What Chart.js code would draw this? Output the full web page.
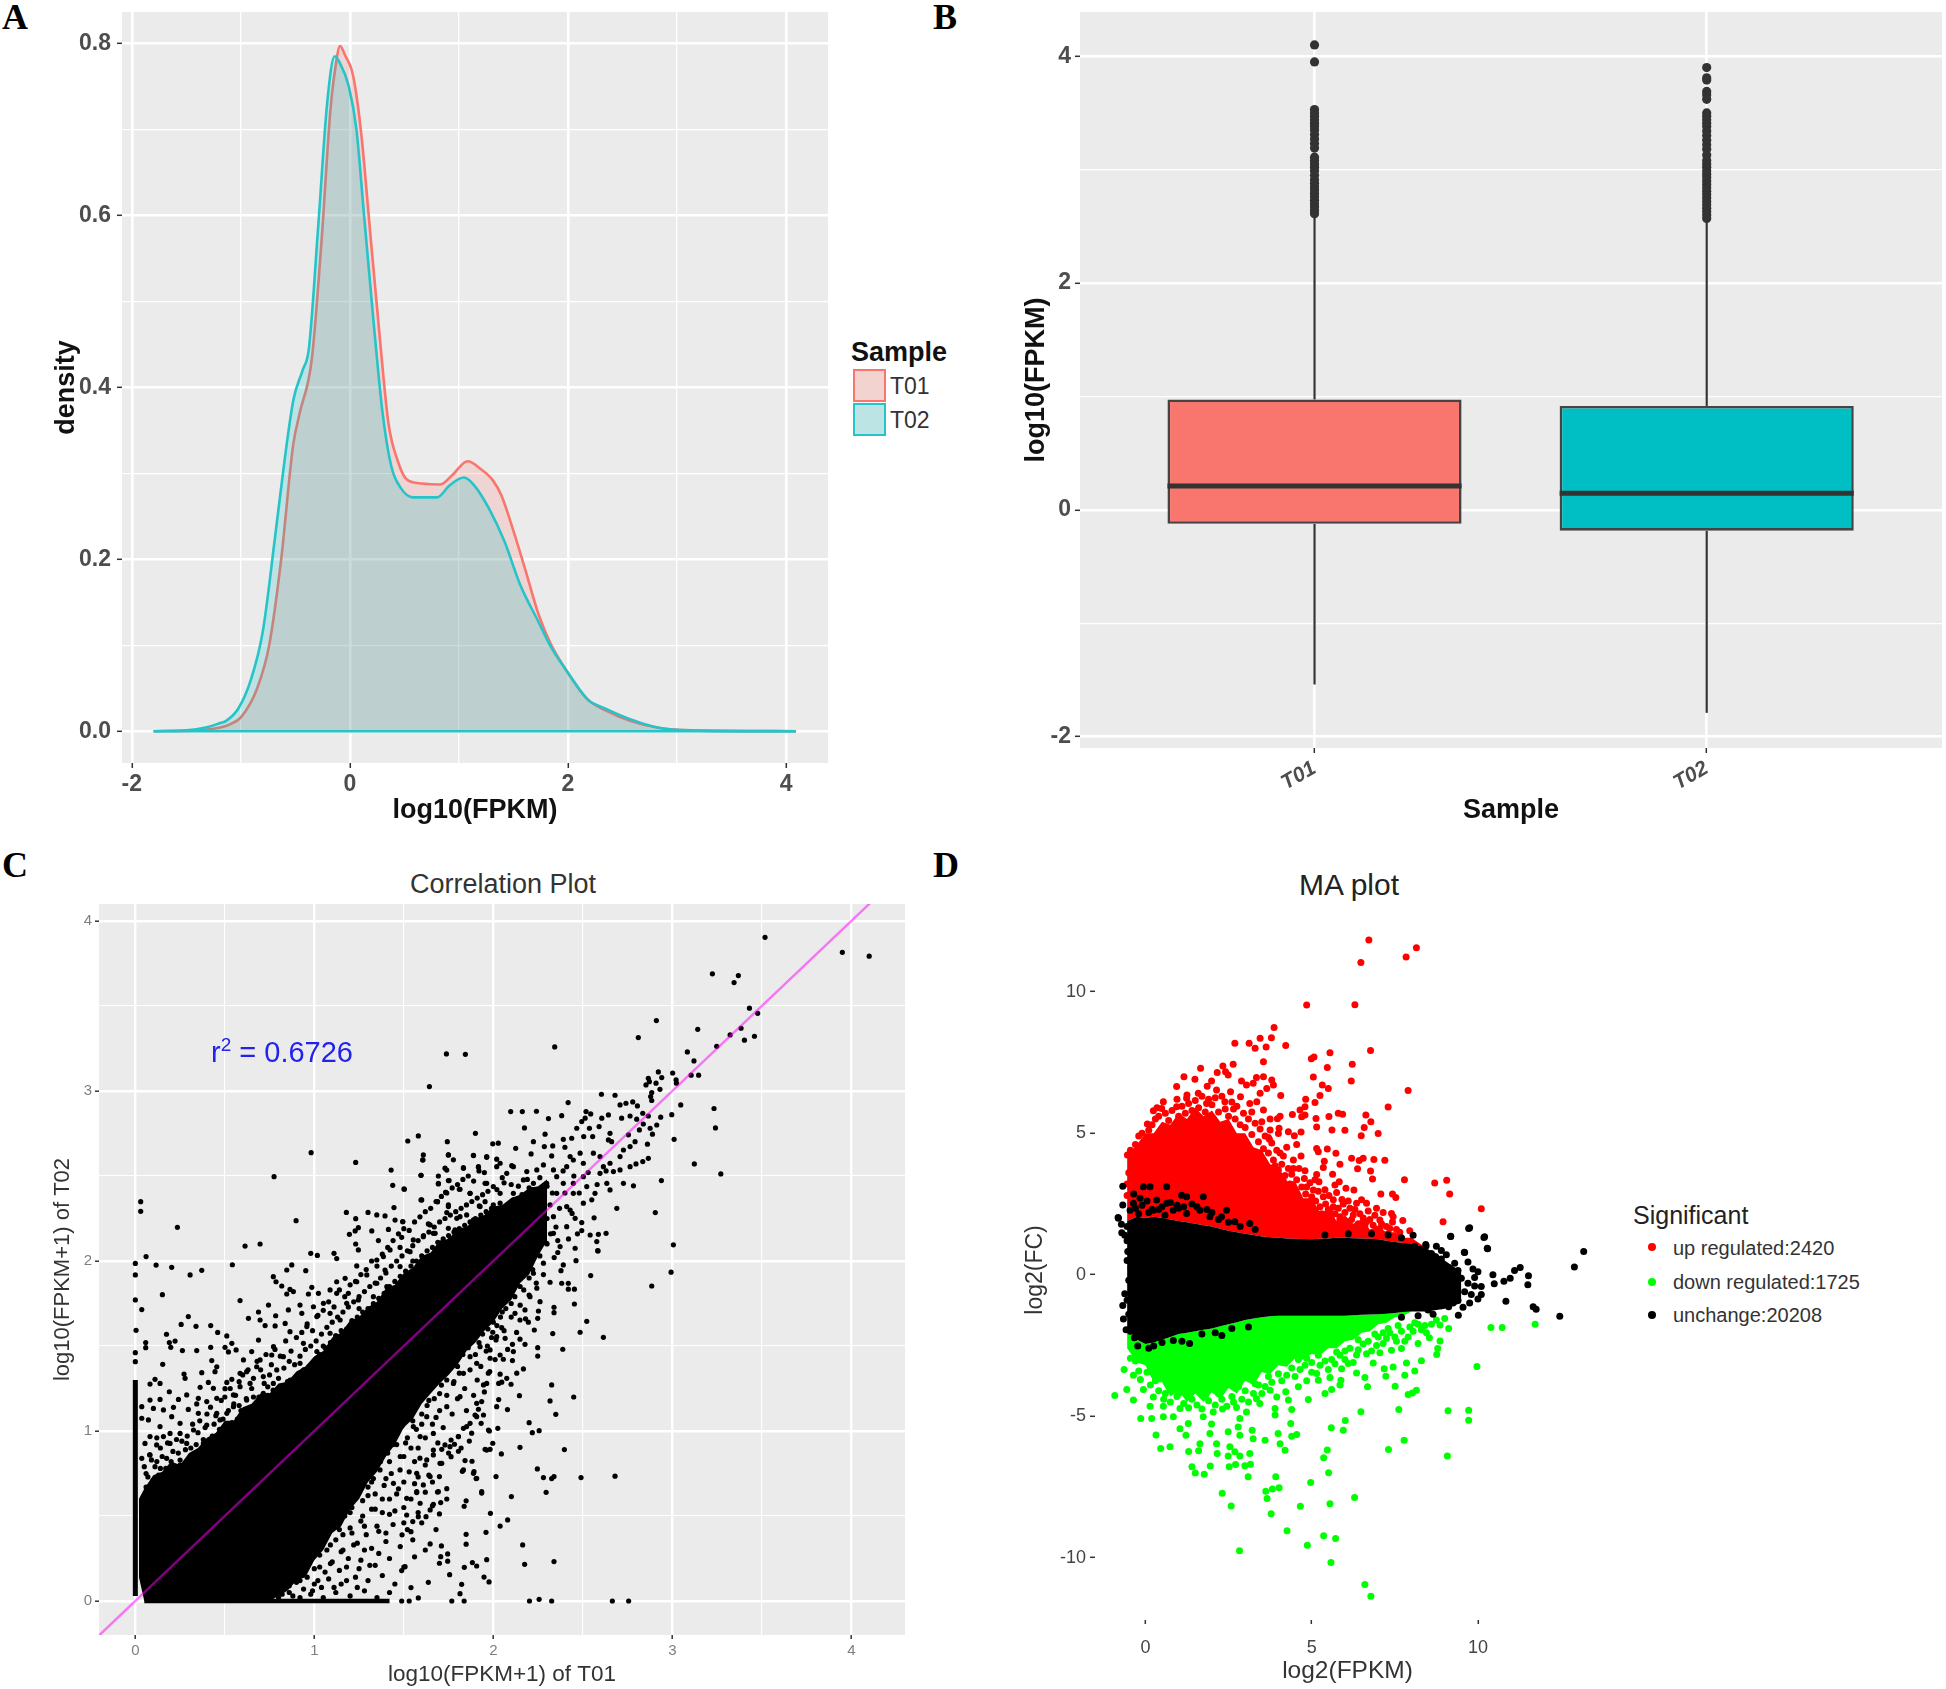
<!DOCTYPE html>
<html><head><meta charset="utf-8">
<script src="https://cdn.jsdelivr.net/npm/chart.js@4/dist/chart.umd.min.js"></script>
<style>
html,body{margin:0;background:#fff}
#page{position:relative;width:1946px;height:1689px;overflow:hidden;font-family:"Liberation Sans",sans-serif}
canvas{position:absolute;filter:blur(.55px)}
.t{position:absolute;transform:translate(-50%,-50%);white-space:nowrap;color:#222}
.l{position:absolute;transform:translateY(-50%);white-space:nowrap;color:#333}
.letter{position:absolute;font:bold 36px "Liberation Serif",serif;color:#000;transform:translateY(-50%)}
.sw{position:absolute;box-sizing:border-box;border-width:2.5px;border-style:solid}
.dot{position:absolute;width:8px;height:8px;border-radius:50%;transform:translate(-50%,-50%)}
sup{font-size:19px;line-height:0;vertical-align:11px}
</style></head><body><div id="page">
<canvas id="a"></canvas><canvas id="b"></canvas><canvas id="c"></canvas><canvas id="d"></canvas>
<div class="letter" style="left:2px;top:17px">A</div>
<div class="letter" style="left:933px;top:17px">B</div>
<div class="letter" style="left:2px;top:865px">C</div>
<div class="letter" style="left:933px;top:865px">D</div>
<div class="l" style="left:851px;top:352px;font:bold 27px 'Liberation Sans';color:#111">Sample</div>
<div class="sw" style="left:853px;top:369px;width:33px;height:33px;border-color:#F8766D;background:#F2D3D0"></div>
<div class="sw" style="left:853px;top:403px;width:33px;height:33px;border-color:#26C4C8;background:#BCE4E4"></div>
<div class="l" style="left:890px;top:386px;font-size:23px">T01</div>
<div class="l" style="left:890px;top:420px;font-size:23px">T02</div>
<div class="t" style="left:503px;top:884px;font-size:27px;color:#333">Correlation Plot</div>
<div class="t" style="left:282px;top:1052px;font-size:29px;color:#2222EE">r<sup>2</sup> = 0.6726</div>
<div class="t" style="left:1349px;top:885px;font-size:30px;color:#222">MA plot</div>
<div class="l" style="left:1633px;top:1215px;font-size:25px;color:#222">Significant</div>
<div class="dot" style="left:1652px;top:1247px;background:#f00"></div>
<div class="dot" style="left:1652px;top:1282px;background:#0f0"></div>
<div class="dot" style="left:1652px;top:1315px;background:#000"></div>
<div class="l" style="left:1673px;top:1248px;font-size:20px">up regulated:2420</div>
<div class="l" style="left:1673px;top:1282px;font-size:20px">down regulated:1725</div>
<div class="l" style="left:1673px;top:1315px;font-size:20px">unchange:20208</div>
</div>
<script>
// ---------- Panel A: density ----------
const densityT01=[[-1.8,0],[-1.4,.001],[-1.2,.004],[-1.1,.008],[-1,.016],[-.85,.05],[-.74,.1],[-.63,.2],[-.52,.333],[-.46,.37],[-.35,.432],[-.26,.57],[-.18,.72],[-.135,.77],[-.09,.797],[-.04,.785],[.017,.769],[.06,.74],[.11,.688],[.185,.582],[.27,.464],[.354,.358],[.44,.314],[.52,.293],[.66,.288],[.83,.287],[.94,.298],[1.08,.314],[1.2,.305],[1.31,.292],[1.39,.274],[1.5,.233],[1.62,.183],[1.73,.136],[1.84,.102],[2,.068],[2.18,.037],[2.35,.024],[2.57,.012],[2.83,.004],[3.13,.001],[4.09,0]];
const densityT02=[[-1.8,0],[-1.5,.001],[-1.3,.005],[-1.2,.009],[-1.135,.012],[-1.02,.027],[-.91,.059],[-.8,.115],[-.685,.227],[-.6,.314],[-.517,.386],[-.433,.42],[-.376,.445],[-.29,.588],[-.208,.731],[-.14,.785],[-.095,.778],[-.01,.75],[.06,.7],[.13,.6],[.213,.482],[.3,.37],[.38,.308],[.466,.283],[.58,.272],[.8,.272],[.916,.286],[1.045,.295],[1.14,.286],[1.28,.258],[1.42,.22],[1.56,.171],[1.73,.127],[1.84,.099],[2,.068],[2.18,.037],[2.35,.026],[2.57,.014],[2.83,.004],[3.13,.001],[4.09,0]];
const baseline=[[-1.8,0],[4.09,0]];
const aXMajor=[-2,0,2,4], aXMinor=[-1,1,3];
const aYMajor=[0,.2,.4,.6,.8], aYMinor=[.1,.3,.5,.7];
// ---------- Panel B: box plot ----------
const samples=['T01','T02'];
const q1=[-.123,-.184], q3=[.973,.916], medians=[.21,.146];
const whiskerLow=[-1.54,-1.79], whiskerHigh=[2.6,2.56];
const outT01=[4.1,3.95,3.53,3.5,3.47,3.44,3.41,3.38,3.35,3.31,3.27,3.23,3.19,3.11,3.08,3.05,3.02,2.99,2.95,2.91,2.88,2.85,2.82,2.79,2.76,2.73,2.7,2.67,2.64,2.61];
const outT02=[3.9,3.81,3.79,3.69,3.66,3.62,3.5,3.47,3.44,3.41,3.38,3.34,3.3,3.26,3.22,3.18,3.13,3.08,3.05,3.02,2.99,2.96,2.93,2.9,2.87,2.84,2.81,2.78,2.75,2.72,2.69,2.66,2.63,2.6,2.57];
const bYMajor=[-2,0,2,4], bYMinor=[-1,1,3];
// ---------- Panel C: correlation ----------
const fitLine=[[-.5,-.5],[4.5,4.5]];
const cBandX=[.02,.05,.1,.15,.2,.25,.3,.35,.4,.45,.5,.55,.6,.65,.7,.75,.8,.85,.9,.95,1,1.05,1.1,1.15,1.2,1.25,1.3,1.35,1.4,1.45,1.5,1.55,1.6,1.65,1.7,1.75,1.8,1.85,1.9,1.95,2,2.05,2.1,2.15,2.2,2.25,2.3];
const cBandTop=[.6,.66,.74,.76,.82,.8,.87,.9,.96,.99,1.06,1.06,1.14,1.16,1.22,1.22,1.28,1.29,1.35,1.38,1.44,1.47,1.55,1.58,1.65,1.67,1.73,1.76,1.84,1.86,1.93,1.96,2.03,2.05,2.12,2.13,2.19,2.2,2.25,2.27,2.32,2.33,2.37,2.39,2.43,2.44,2.48];
const cBandLow=[.14,0,0,0,0,0,0,0,0,0,0,0,0,0,0,0,.03,.06,.12,.14,.24,.3,.4,.44,.54,.6,.7,.76,.85,.92,1.02,1.07,1.16,1.22,1.28,1.33,1.39,1.47,1.52,1.59,1.64,1.72,1.77,1.87,1.92,2.03,2.12];
const cColumn=[[0,.03],[0,1.3]];
const cRow=[[.05,0],[1.42,0]];
const cHigh=[[3.518,3.904],[3.95,3.816],[4.1,3.793],[3.224,3.689],[3.369,3.679],[3.345,3.638],[3.431,3.487],[3.477,3.457],[2.911,3.414],[3.142,3.363],[3.384,3.369],[3.323,3.33],[3.459,3.322],[3.403,3.299],[2.81,3.314],[3.248,3.263],[2.343,3.259],[1.738,3.218],[1.844,3.216],[3.084,3.23],[3.121,3.177],[3.105,3.093],[3.147,3.093],[2.922,3.112],[3.002,3.106],[2.941,3.079],[3.021,3.065],[3.023,3.046],[2.866,3.075],[2.872,3.055],[2.853,3.036],[2.909,3.046],[2.931,3.01],[2.885,2.991],[2.879,2.967],[2.885,2.944],[1.643,3.026],[2.604,2.981],[2.68,2.975],[2.418,2.932],[3.047,2.918],[3.233,2.897],[3.241,2.783],[2.997,2.861],[2.935,2.846],[3.01,2.716],[3.123,2.571],[3.271,2.512],[2.939,2.473],[2.69,2.31],[2.905,2.285],[3.006,2.095],[2.563,2.254],[2.708,2.918],[2.741,2.928],[2.779,2.936],[2.805,2.912],[2.518,2.879],[2.544,2.865],[2.494,2.82],[2.513,2.84],[2.466,2.781],[2.537,2.781],[2.097,2.879],[2.162,2.879],[2.241,2.881],[2.308,2.838],[2.382,2.855],[2.174,2.783],[1.9,2.751],[1.581,2.736],[1.522,2.706],[1.743,2.702],[1.997,2.689],[2.028,2.693],[2.289,2.746],[2.224,2.702],[2.125,2.663],[2.285,2.673],[2.332,2.677],[2.391,2.716],[2.438,2.722],[2.4,2.669],[2.505,2.732],[2.555,2.732],[2.652,2.751],[2.643,2.712],[2.661,2.702],[2.606,2.84],[2.643,2.859],[2.591,2.791],[2.717,2.84],[2.764,2.853],[2.801,2.834],[2.835,2.869],[2.866,2.853],[2.838,2.806],[2.913,2.8],[2.876,2.781],[2.816,2.771],[2.889,2.746],[2.755,2.742],[2.861,2.687],[2.792,2.702],[2.764,2.673],[2.727,2.653],[2.866,2.604],[2.835,2.585],[2.797,2.571],[2.764,2.555],[2.708,2.614],[1.749,2.624],[1.609,2.624],[1.606,2.595],[1.777,2.595],[1.889,2.62],[1.963,2.61],[2.019,2.599],[1.596,2.504],[1.693,2.5],[1.73,2.546],[1.833,2.549],[1.917,2.551],[2.038,2.575],[2.103,2.561],[2.211,2.63],[2.326,2.618],[1.693,2.453],[1.749,2.473],[1.503,2.422],[1.81,2.422],[1.87,2.398],[1.734,2.404],[1.6,2.359],[1.688,2.349],[1.749,2.33],[1.922,2.324],[1.954,2.349],[1.74,2.285],[1.494,2.232],[1.637,2.218],[2.494,2.226],[2.494,2.179],[2.541,2.153],[2.587,2.157],[2.63,2.163],[2.578,2.114],[2.583,2.061],[2.457,2.075],[2.457,2.251]];
const cMid=[[2.075,2.516],[2.112,2.555],[2.187,2.526],[2.243,2.536],[2.28,2.565],[2.336,2.536],[2.41,2.555],[2.447,2.594],[2.485,2.634],[2.429,2.614],[2.503,2.575],[2.559,2.634],[2.596,2.614],[2.615,2.555],[2.652,2.575],[2.596,2.516],[2.671,2.526],[2.708,2.536],[2.634,2.457],[2.652,2.418],[2.727,2.457],[2.783,2.442],[1.954,2.457],[2,2.438],[2.038,2.398],[2.112,2.398],[2.168,2.477],[2.224,2.457],[2.298,2.457],[2.354,2.496],[2.391,2.457],[2.447,2.457],[2.503,2.496],[2.522,2.438],[2.568,2.398],[2.447,2.398],[2.354,2.398],[2.261,2.398],[2.187,2.359],[2.112,2.359],[2.038,2.34],[2.317,2.33],[2.41,2.32],[2.503,2.34],[2.429,2.3],[2.336,2.261],[2.261,2.281],[2.187,2.261],[2.112,2.281],[2.038,2.261],[1.963,2.242],[1.889,2.242],[1.814,2.261],[1.786,2.183],[1.851,2.163],[1.758,2.124],[1.702,2.104],[1.665,2.163],[2.261,2.163],[2.336,2.163],[2.41,2.202],[2.298,2.104],[2.373,2.085],[2.224,2.045],[2.28,2.3],[2.2,2.2],[2.33,2.4],[2.4,2.4],[2.45,2.5],[2.35,2.2],[2.3,2.25],[2.37,2.31],[2.23,2.34],[2.3,2.44],[2.14,2.44],[2.05,2.49],[2.2,2.43],[2.26,2.49],[2.39,2.53],[2.48,2.4],[2.53,2.52],[2.58,2.45],[2.63,2.53],[2.55,2.36],[2.44,2.28],[2.36,2.05],[2.42,2.13],[2.47,2.16]];
const cUpper=[[.03,2.349],[.03,2.292],[.235,2.198],[.775,2.496],[.982,2.637],[1.231,2.58],[1.429,2.535],[1.438,2.445],[1.501,2.424],[1.596,2.504],[1.606,2.594],[1.693,2.457],[1.753,2.473],[1.734,2.404],[1.814,2.422],[1.87,2.398],[1.596,2.359],[1.688,2.349],[1.749,2.32],[1.445,2.314],[1.179,2.286],[1.3,2.286],[1.349,2.271],[1.395,2.265],[1.231,2.249],[.898,2.237],[1.451,2.241],[1.494,2.231],[1.246,2.196],[1.321,2.177],[1.414,2.186],[1.196,2.157],[1.228,2.177],[1.358,2.12],[1.231,2.1],[1.246,2.065],[1.479,2.08],[.613,2.088],[.697,2.1],[.98,2.045],[1.017,2.033],[1.11,2.045],[1.125,2.014],[.06,2.026],[0,1.986],[.116,1.976],[.203,1.963],[.371,1.945],[.306,1.918],[0,1.918],[.542,1.978],[.874,1.977],[.846,1.947],[.952,1.943],[1.237,1.971],[.771,1.908],[.786,1.878],[.818,1.853],[.864,1.833],[.846,1.806],[.883,1.82],[.986,1.845],[.967,1.806],[.151,1.802],[0,1.771],[.585,1.767],[.036,1.714],[.744,1.741],[.688,1.7],[.632,1.663],[.697,1.653],[.784,1.678],[.725,1.62],[.781,1.618],[.837,1.633],[.855,1.712],[.92,1.741],[.93,1.692],[.995,1.731],[1.023,1.81],[1.051,1.751],[1.088,1.692],[1.088,1.83],[1.125,1.878],[1.172,1.898],[1.237,1.878],[1.293,1.918],[1.349,2.006],[1.386,2.026],[1.423,2.065],[1.535,2.055],[1.488,2.139],[1.553,2.124],[1.609,2.143],[1.647,2.212],[1.675,2.163],[1.749,2.192],[1.796,2.251],[1.851,2.271],[1.926,2.32],[1.963,2.457],[1.917,2.555],[1.833,2.545],[1.74,2.535],[1.889,2.622],[1.963,2.614],[1.749,2.624],[2.019,2.555],[1.125,1.81],[1.19,1.81],[1.181,1.751],[1.246,1.771],[1.33,1.79],[1.349,1.869],[1.405,1.849],[1.395,1.947],[1.479,1.967],[1.488,1.878],[1.535,1.928],[1.144,1.653],[1.218,1.614],[1.181,1.516],[1.088,1.575],[1.014,1.673],[.958,1.614],[.864,1.584],[.939,1.516],[.772,1.496],[.827,1.437],[.92,1.398],[1.014,1.467],[.688,1.535],[.296,1.673],[.256,1.627],[.339,1.616],[.421,1.62],[.46,1.58],[.511,1.559],[.004,1.592],[.174,1.569],[.222,1.529],[.19,1.52],[.198,1.492],[.058,1.52],[.058,1.49],[.263,1.473],[.343,1.473],[.421,1.492],[.501,1.492],[.539,1.516],[.563,1.477],[.52,1.465],[0,1.461],[0,1.408],[.153,1.392],[.604,1.418],[.65,1.467],[.697,1.418],[.678,1.378],[.762,1.447],[.427,1.414],[.455,1.378],[.445,1.349],[.371,1.343],[.272,1.335],[.278,1.31],[.622,1.349],[.585,1.339],[.539,1.304],[.511,1.286],[.408,1.286],[.11,1.304],[.082,1.276],[.138,1.28],[.19,1.231],[.362,1.257],[.436,1.251],[.501,1.249],[.585,1.261],[.641,1.28],[.715,1.32],[.79,1.359],[.865,1.3],[.771,1.28],[.715,1.222],[.827,1.222],[.287,1.212],[.241,1.186],[.082,1.182],[.138,1.186],[.352,1.192],[.455,1.192],[.548,1.212],[.622,1.182],[.101,1.133],[.036,1.143],[.213,1.139],[.157,1.124],[.296,1.127],[.343,1.159],[.399,1.173],[.455,1.104],[.073,1.065],[.036,1.075],[.203,1.084],[.352,1.104],[.25,1.045],[.138,1.026],[.511,1.104],[.548,1.143],[.194,.986],[.082,.967],[.157,.967],[.25,.986],[.325,1.006],[.399,1.035],[.473,1.065],[.054,.927],[.119,.918],[.194,.927],[.287,.927],[.38,.927],[.082,.859],[.175,.839],[.036,.839],[.25,.829],[.33,.86],[.42,.93],[.14,.78],[.23,.77],[.3,.82],[.06,.75],[.9,1.3],[.96,1.36],[1.05,1.5],[1.12,1.56],[1.25,1.72],[1.3,1.7],[1.4,1.8],[1.55,2],[1.62,2.02],[1.7,2.1],[.58,1.15],[.66,1.2],[.74,1.26]];
const cUpperDense=[[.06,.67],[.07,.73],[.05,.79],[.08,.86],[.1,.71],[.11,.79],[.09,.83],[.13,.74],[.12,.82],[.14,.9],[.12,.96],[.16,.72],[.17,.78],[.15,.85],[.18,.93],[.19,.75],[.2,.82],[.22,.78],[.21,.88],[.23,.95],[.25,.8],[.24,.87],[.27,.8],[.28,.89],[.26,.94],[.3,.83],[.31,.9],[.29,.97],[.32,1.04],[.33,.85],[.34,.92],[.35,.99],[.37,.87],[.36,1.06],[.38,.95],[.39,1.02],[.41,.9],[.4,1.1],[.43,.97],[.44,1.04],[.42,1.14],[.46,.96],[.45,1.09],[.47,1.01],[.49,1.07],[.48,1.18],[.51,1],[.52,1.12],[.5,1.2],[.54,1.05],[.55,1.16],[.53,1.25],[.57,1.07],[.56,1.21],[.59,1.12],[.58,1.29],[.61,1.09],[.62,1.19],[.6,1.33],[.64,1.13],[.65,1.25],[.63,1.36],[.67,1.16],[.66,1.31],[.69,1.2],[.68,1.41],[.71,1.17],[.72,1.28],[.7,1.36],[.74,1.21],[.75,1.33],[.73,1.45],[.77,1.24],[.76,1.39],[.79,1.23],[.8,1.31],[.78,1.48],[.82,1.26],[.83,1.37],[.81,1.44],[.85,1.29],[.86,1.41],[.84,1.53],[.88,1.3],[.89,1.39],[.87,1.47],[.91,1.33],[.92,1.44],[.9,1.55],[.94,1.36],[.95,1.48],[.93,1.58],[.97,1.38],[.98,1.5],[.96,1.63],[1,1.4],[1.01,1.53],[.99,1.59],[1.03,1.45],[1.04,1.57],[1.02,1.68],[1.06,1.49],[1.07,1.61],[1.05,1.71],[1.09,1.52],[1.1,1.64],[1.08,1.76],[1.12,1.56],[1.13,1.67],[1.11,1.73],[1.15,1.59],[1.16,1.7],[1.14,1.83],[1.18,1.6],[1.19,1.73],[1.17,1.79],[1.21,1.65],[1.22,1.76],[1.2,1.86],[1.24,1.67],[1.25,1.79],[1.23,1.88],[1.27,1.7],[1.28,1.82],[1.26,1.92],[1.3,1.72],[1.31,1.85],[1.29,1.95],[1.33,1.75],[1.34,1.87],[1.32,2],[1.36,1.78],[1.37,1.9],[1.35,1.97],[1.39,1.81],[1.4,1.93],[1.38,2.04],[1.42,1.85],[1.43,1.97],[1.41,2.08],[1.45,1.88],[1.46,2],[1.44,2.12],[1.48,1.91],[1.49,2.03],[1.47,2.16],[1.51,1.94],[1.52,2.06],[1.5,2.19],[1.54,1.97],[1.55,2.09],[1.53,2.18],[1.57,2],[1.58,2.12],[1.56,2.23],[1.6,2.03],[1.61,2.15],[1.59,2.26],[1.63,2.06],[1.64,2.17],[1.62,2.29],[1.66,2.08],[1.67,2.2],[1.65,2.31],[1.69,2.11],[1.7,2.23],[1.68,2.35],[1.72,2.13],[1.73,2.25],[1.71,2.38],[1.75,2.15],[1.76,2.27],[1.74,2.4],[1.78,2.17],[1.79,2.29],[1.77,2.43],[1.81,2.19],[1.82,2.31],[1.8,2.45],[1.84,2.21],[1.85,2.33],[1.83,2.48],[1.87,2.23],[1.88,2.35],[1.86,2.5],[1.9,2.25],[1.91,2.37],[1.89,2.47],[1.93,2.27],[1.94,2.39],[1.92,2.53],[1.96,2.29],[1.97,2.41],[1.95,2.52],[1.99,2.31],[2,2.33],[2.02,2.42],[2.04,2.3],[2.06,2.46],[2.08,2.33],[2.1,2.45],[2.12,2.31],[2.16,2.39],[2.19,2.48],[2.22,2.42]];
const cLower=[[2.993,1.934],[2.885,1.853],[2.544,1.914],[2.585,2.059],[2.462,2.002],[2.391,1.977],[2.378,1.943],[2.317,1.875],[2.382,1.869],[2.419,1.869],[2.419,1.834],[2.453,1.834],[2.453,1.747],[2.224,1.928],[2.28,1.987],[2.243,1.84],[2.261,1.761],[2.205,1.79],[2.177,1.712],[2.252,1.706],[2.339,1.728],[2.339,1.696],[2.248,1.663],[2.196,1.64],[2.149,1.653],[2.121,1.692],[2.522,1.645],[2.229,1.594],[2.332,1.573],[2.485,1.581],[2.615,1.551],[2.047,1.608],[1.997,1.581],[2.015,1.536],[2.066,1.545],[2.149,1.54],[2.177,1.51],[2.107,1.51],[2.248,1.49],[2.388,1.481],[2.248,1.441],[2.112,1.467],[2.038,1.447],[2.107,1.414],[2.056,1.422],[1.967,1.5],[1.982,1.428],[2.168,1.365],[2.131,1.34],[1.972,1.34],[2.038,1.334],[2.075,1.31],[2.047,1.287],[2.099,1.275],[2.326,1.271],[2.146,1.208],[2.449,1.2],[2.317,1.177],[2.03,1.185],[1.945,1.271],[2.079,1.126],[2.349,1.098],[1.935,1.173],[1.917,1.128],[1.898,1.094],[1.945,1.094],[1.932,1.045],[2.025,1.016],[1.978,1],[2.2,1.049],[2.218,.99],[2.256,1.002],[1.87,1.045],[1.833,1.016],[1.879,.987],[1.805,.967],[1.997,.928],[1.764,.947],[1.866,.941],[1.73,.918],[1.783,.922],[2.149,.904],[1.954,.892],[1.982,.892],[2.397,.891],[1.712,.892],[1.805,.881],[2.045,.865],[1.764,.849],[1.665,.859],[1.628,.83],[1.842,.826],[1.881,.822],[1.712,.81],[2.246,.777],[1.827,.763],[1.892,.761],[1.904,.72],[2.015,.732],[2.28,.726],[2.326,.72],[2.339,.732],[2.49,.726],[2.68,.734],[1.699,.732],[1.647,.732],[1.609,.683],[1.74,.661],[1.688,.641],[1.935,.635],[2.295,.639],[2.101,.614],[1.572,.638],[1.516,.604],[1.848,.589],[1.706,.579],[1.837,.557],[1.665,.569],[1.591,.575],[1.647,.536],[1.984,.516],[1.699,.512],[1.624,.496],[1.581,.496],[1.516,.506],[2.08,.477],[1.55,.467],[2.038,.441],[1.54,.408],[1.959,.404],[1.49,.389],[1.848,.392],[1.647,.336],[1.71,.324],[1.848,.334],[2.164,.33],[1.745,.277],[1.706,.261],[1.699,.222],[1.745,.234],[1.963,.243],[2.339,.232],[1.883,.226],[1.907,.206],[2.175,.216],[1.838,.198],[1.507,.202],[1.488,.179],[1.756,.155],[1.948,.141],[1.976,.112],[1.637,.11],[1.823,.098],[1.54,.079],[1.814,.043],[1.581,.018],[1.768,0],[1.837,0],[2.202,0],[2.256,.01],[2.326,0],[2.665,0],[2.756,0],[1.488,0],[1.53,0],[1.963,1.28],[1.907,1.163],[1.851,1.026],[1.805,.967],[1.758,.908],[1.702,.81],[1.833,.771],[1.889,.751],[1.907,.722],[1.693,.643],[1.935,.643],[1.572,.643],[1.442,.692],[1.367,.771],[1.256,.712],[1.218,.633],[1.479,.771],[1.572,.751],[1.665,.888],[1.591,.967],[1.665,.986],[1.553,1.026],[1.628,1.084],[1.516,1.104],[1.777,1.28],[1.814,1.202],[1.74,1.143],[1.833,1.339],[1.907,1.398],[1.982,1.477],[2.019,1.555],[1.926,1.496],[1.87,1.437],[2.019,1.143],[1.907,1.084],[1.973,1.006],[1.963,.888]];
const cLowBlock=[[.8,.02],[.86,.05],[.92,.02],[.98,.04],[1.05,.02],[1.12,.05],[1.2,.03],[1.28,.06],[1.35,.02],[1.42,.05],[.84,.14],[.92,.12],[1,.1],[1.08,.13],[1.15,.1],[1.23,.14],[1.3,.12],[1.38,.15],[1.45,.1],[.95,.22],[1.03,.2],[1.1,.23],[1.18,.2],[1.26,.24],[1.34,.21],[1.42,.25],[1.5,.2],[1.56,.26],[1.02,.3],[1.09,.33],[1.16,.3],[1.24,.34],[1.32,.31],[1.4,.35],[1.48,.32],[1.55,.36],[1.62,.3],[1.14,.42],[1.21,.4],[1.28,.44],[1.36,.41],[1.44,.45],[1.52,.42],[1.6,.46],[1.68,.42],[1.2,.52],[1.27,.5],[1.34,.54],[1.42,.51],[1.5,.55],[1.58,.52],[1.66,.56],[1.3,.62],[1.38,.6],[1.46,.63],[1.54,.6],[1.62,.64],[1.74,.6],[1.32,.7],[1.4,.72],[1.5,.7],[1.58,.73],[1.66,.7],[1.42,.82],[1.5,.85],[1.56,.82],[1.62,.8],[1.46,.92],[1.52,.96],[1.58,.9],[1.55,1.06],[1.6,1.04],[1.68,1.08],[1.64,1.18],[1.7,1.22],[1.74,1.3],[1.8,1.38],[1.85,1.5],[1.92,1.58],[1.96,1.66],[2.05,1.7],[2.1,1.75],[2.15,1.85],[2.2,1.9]];
const cLowerDense=[[.71,.02],[.73,.07],[.75,.03],[.76,.12],[.78,.06],[.79,.16],[.81,.09],[.83,.2],[.82,.04],[.85,.13],[.87,.24],[.86,.09],[.89,.17],[.88,.03],[.9,.11],[.91,.28],[.93,.18],[.94,.07],[.95,.31],[.96,.14],[.97,.25],[.99,.06],[1,.19],[1.01,.34],[1.02,.12],[1.03,.27],[1.05,.38],[1.04,.08],[1.06,.17],[1.07,.3],[1.08,.42],[1.09,.22],[1.11,.08],[1.12,.36],[1.13,.46],[1.14,.18],[1.15,.29],[1.17,.5],[1.16,.39],[1.18,.12],[1.19,.25],[1.2,.43],[1.21,.55],[1.22,.33],[1.24,.08],[1.25,.19],[1.26,.47],[1.27,.59],[1.28,.3],[1.29,.39],[1.3,.67],[1.31,.21],[1.32,.54],[1.33,.72],[1.35,.44],[1.34,.63],[1.36,.28],[1.37,.82],[1.38,.52],[1.39,.68],[1.41,.87],[1.4,.4],[1.42,.6],[1.43,.75],[1.44,.92],[1.46,.98],[1.45,.53],[1.47,.66],[1.48,.85],[1.49,1.03],[1.51,.93],[1.52,1.08],[1.5,.46],[1.53,.76],[1.54,.9],[1.55,1.13],[1.56,.69],[1.57,1.01],[1.58,1.17],[1.59,.84],[1.6,1.1],[1.61,1.21],[1.62,.96],[1.63,1.15],[1.64,.74],[1.65,1.26],[1.66,1.04],[1.67,1.19],[1.68,1.31],[1.69,.93],[1.7,1.12],[1.71,1.27],[1.72,1.02],[1.73,1.34],[1.74,1.21],[1.75,.87],[1.76,1.38],[1.77,1.1],[1.78,1.29],[1.79,1.42],[1.8,1.19],[1.81,1.34],[1.82,.9],[1.83,1.45],[1.84,1.25],[1.86,1.49],[1.85,1.12],[1.87,1.36],[1.88,1.53],[1.89,1.21],[1.9,1.45],[1.91,1.3],[1.92,1.52],[1.93,1.38],[1.94,1.57],[1.95,1.23],[1.96,1.47],[1.97,1.6],[1.98,1.35],[1.99,1.55],[2,1.64],[2.01,1.42],[2.02,1.62],[2.03,1.28],[2.04,1.67],[2.06,1.59],[2.07,1.72],[2.08,1.48],[2.1,1.67],[2.12,1.79],[2.13,1.58],[2.15,1.74],[2.17,1.83],[2.18,1.66],[2.2,1.8],[2.22,1.95],[2.24,1.87],[2.26,2.03],[2.28,1.92],[2.3,2.1],[2.32,2.16],[2.34,2.02],[2.36,2.12]];
const cXMajor=[0,1,2,3,4], cXMinor=[.5,1.5,2.5,3.5];
const cYMajor=[0,1,2,3,4], cYMinor=[.5,1.5,2.5,3.5];
// ---------- Panel D: MA plot ----------
const dBandX=[-.55,-.25,0,.25,.5,.75,1,1.25,1.5,1.75,2,2.25,2.5,2.75,3,3.25,3.5,3.75,4,4.25,4.5,4.75,5,5.25,5.5,5.75,6,6.25,6.5,6.75,7,7.25,7.5,7.75,8,8.25,8.5,8.75,9,9.25,9.5];
const dBlackTop=[1.9,2.05,2,2.05,2,1.95,1.9,1.85,1.8,1.75,1.7,1.62,1.55,1.5,1.45,1.4,1.35,1.32,1.3,1.28,1.27,1.26,1.25,1.27,1.28,1.3,1.3,1.29,1.28,1.27,1.25,1.2,1.15,1.12,1.1,1,.9,.7,.5,.3,.1];
const dBlackLow=[-1.9,-2.3,-2.45,-2.4,-2.3,-2.2,-2.1,-2.05,-2,-1.95,-1.9,-1.82,-1.75,-1.68,-1.6,-1.55,-1.5,-1.47,-1.45,-1.45,-1.45,-1.45,-1.45,-1.45,-1.45,-1.45,-1.45,-1.43,-1.42,-1.41,-1.4,-1.38,-1.35,-1.32,-1.3,-1.3,-1.3,-1.25,-1.2,-1.1,-1];
const dRedTop=[4.2,4.6,5,5,5.4,5.3,5.7,5.5,5.9,5.6,5.8,5.4,5.5,5,5,4.5,4.4,3.9,3.8,3.3,3.3,2.7,2.7,2.2,2.3,1.9,2.1,1.8,1.95,1.6,1.7,1.5,1.5,1.3,1.3,1.1,.9,.75,.5,.3,.1];
const dGreenLow=[-2.6,-3.1,-3.2,-3.8,-3.8,-4.3,-4.1,-4.5,-4.2,-4.5,-4.15,-4.4,-4,-4.2,-3.75,-3.9,-3.45,-3.5,-3.2,-3.25,-2.95,-3,-2.8,-2.85,-2.6,-2.6,-2.35,-2.3,-2.05,-2,-1.75,-1.7,-1.5,-1.45,-1.3,-1.3,-1.3,-1.25,-1.2,-1.1,-1];
const dUp=[[6.72,11.82],[8.15,11.55],[7.84,11.22],[6.48,11.03],[4.85,9.53],[6.3,9.54],[3.87,8.73],[3.79,8.37],[3.45,8.35],[3.12,8.18],[2.69,8.18],[3.3,8],[3.63,8.04],[4.22,8.1],[6.77,7.92],[5.55,7.84],[5.07,7.69],[4.99,7.63],[6.22,7.43],[3.55,7.52],[2.64,7.43],[5.47,7.32],[2.33,7.37],[1.66,7.29],[2.41,7.17],[2.16,7.14],[2.49,7.05],[5.05,6.98],[6.19,6.84],[1.16,6.99],[1.49,6.9],[1.99,6.84],[5.32,6.7],[5.5,6.58],[7.9,6.51],[.94,6.65],[1.86,6.66],[2.89,6.84],[3.04,6.7],[3.34,6.97],[3.55,6.99],[3.8,6.88],[3.85,6.7],[3.24,6.76],[3.45,6.41],[3.65,6.58],[4.07,6.33],[5.25,6.33],[1.59,6.41],[2.14,6.52],[2.56,6.46],[2.86,6.29],[4.82,6.2],[5.1,6.08],[1.24,6.23],[.54,6.11],[7.3,5.92],[.49,5.87],[.24,5.79],[3.14,6.05],[3.35,6.11],[4.8,5.93],[1.84,6.05],[2.39,6.11],[.94,5.93],[4.65,5.82],[4.42,5.66],[4.7,5.58],[4.8,5.64],[5.8,5.7],[5.93,5.67],[6.63,5.64],[5.52,5.59],[5.13,5.52],[3.97,5.51],[3.55,5.82],[3.5,5.4],[6.78,5.4],[.06,5.32],[6.58,5.2],[5.15,5.22],[5.61,5.11],[6,5.1],[7,4.99],[4.02,5.17],[3.75,5.11],[4,4.99],[4.68,5.04],[4.48,4.91],[6.49,4.91],[3.73,4.78],[5.15,4.46],[5.2,4.34],[5.47,4.44],[5.73,4.29],[-.54,4.23],[4.68,4.19],[4.15,4.19],[6.2,4.11],[6.55,4.11],[6.43,4.03],[6.87,4.07],[7.2,4.04],[5.38,4.01],[4.45,4.05],[5.85,3.9],[5.35,3.79],[6.38,3.74],[6.77,3.66],[4.8,3.67],[5.15,3.54],[5.63,3.55],[6.83,3.38],[7.79,3.35],[9.06,3.34],[8.7,3.24],[5.22,3.28],[5.83,3.28],[5.7,3.17],[6.03,3.05],[6.27,2.99],[9.15,2.85],[7.08,2.85],[7.43,2.85],[7.53,2.73],[5.91,2.66],[6.65,2.52],[6.35,2.52],[10.1,2.33],[6.95,2.35],[7.4,2.16],[5.65,2.4],[5.35,2.75],[5.05,2.99],[4.95,2.4],[7.05,1.93],[7.74,1.91],[8.95,1.87],[7.43,1.86],[6.65,1.87],[6.25,2.11],[5.85,2.05],[5.45,2.05],[5.15,2.16],[4.95,1.93],[5.35,1.69],[5.85,1.69],[6.3,1.63],[7.05,1.63],[7.95,1.55],[7.35,1.63]];
const dUpDense=[[-.5,3.6],[-.55,3.2],[-.55,2.8],[-.45,4.4],[-.3,4.6],[-.2,4.9],[-.1,5],[.1,5.1],[.2,5.3],[.3,5.5],[.4,5.6],[.6,5.7],[.7,5.45],[.8,5.8],[1,5.6],[1.1,5.95],[1.2,5.7],[1.3,6.05],[1.4,5.8],[1.5,6.15],[1.6,5.9],[1.7,6.3],[1.8,5.75],[1.9,6.2],[2,6],[2.1,6.25],[2.2,5.75],[2.3,6.3],[2.4,5.85],[2.5,5.6],[2.6,6.1],[2.7,5.5],[2.75,5.95],[2.85,5.3],[2.95,5.7],[3,5.2],[3.1,5.5],[3.2,4.95],[3.3,5.35],[3.4,4.7],[3.45,5.15],[3.55,4.45],[3.6,4.9],[3.7,4.3],[3.8,4.65],[3.85,4.05],[3.95,4.4],[4,3.7],[4.1,3.9],[4.2,3.5],[4.25,4.5],[4.3,3.75],[4.35,3.2],[4.4,3.55],[4.5,2.95],[4.55,3.35],[4.6,2.75],[4.62,3.75],[4.7,3.1],[4.72,2.5],[4.78,3.4],[4.82,2.85],[4.9,2.55],[4.95,3.25],[5,2.75],[5.05,2.25],[5.1,3.35],[5.12,2.6],[5.2,2.95],[5.25,2.4],[5.3,2.15],[5.4,3],[5.42,2.5],[5.5,2.3],[5.52,2.8],[5.6,1.95],[5.65,2.65],[5.7,2.15],[5.75,2.9],[5.8,2.35],[5.85,1.95],[5.95,2.5],[6,2.2],[6.05,1.8],[6.1,2.6],[6.15,2.35],[6.2,1.95],[6.3,2.3],[6.4,1.8],[6.45,2.15],[6.5,2.65],[6.55,2],[6.6,1.7],[6.7,2.25],[6.75,1.95],[6.85,1.75],[6.9,2.1],[6.95,1.6],[7.1,1.8],[7.15,2.2],[7.25,1.7],[7.45,2.05],[7.55,1.6],[7.65,1.5],[7.3,1.45],[5.55,2.2],[4.85,3.1],[4.45,3.75],[4.05,4.3],[3.7,4.85],[3.9,3.85],[4.15,3.3],[4.4,2.7],[5.9,1.8],[5.5,1.75],[5.2,1.8],[4.75,2.3],[1.25,6.35],[.35,5.9],[.95,6.2],[2.65,5.85],[3.2,5.75],[3.75,5.5],[4.55,4.6],[4.3,5.05],[4.05,5.6]];
const dDown=[[10.39,-1.87],[10.73,-1.87],[11.72,-1.75],[9.97,-3.24],[9.12,-1.9],[8.86,-1.78],[8.86,-2.34],[8.79,-2.61],[8.76,-2.82],[8.54,-2.23],[8.3,-3.04],[8.2,-2.43],[8.1,-3.4],[8.15,-4.08],[8.03,-4.18],[7.9,-4.23],[7.8,-3.55],[7.51,-3.94],[7.23,-3.59],[7.18,-3.32],[7.45,-3.26],[7.85,-3.12],[7.7,-2.61],[7.9,-2.2],[7.05,-2.76],[7.15,-2.43],[7.4,-2.67],[6.85,-3.12],[6.68,-3.96],[6.6,-3.63],[6.35,-3.47],[6.1,-3.14],[5.9,-3.32],[5.88,-3.73],[5.85,-3.9],[5.55,-3.63],[5.6,-4.06],[5.4,-4.2],[5.2,-3.73],[4.9,-4.41],[4.85,-3.75],[4.6,-3.96],[5.15,-3.49],[6.35,-2.84],[6.65,-2.79],[5.75,-2.73],[9.1,-4.81],[9.72,-4.79],[9.72,-5.14],[7.62,-4.76],[6.48,-4.84],[6.01,-5.15],[5.95,-5.5],[5.59,-5.41],[7.78,-5.85],[7.31,-6.18],[9.08,-6.41],[5.47,-6.19],[5.36,-6.47],[5.51,-7],[4.97,-7.34],[6.29,-7.87],[5.55,-8.09],[4.66,-8.18],[3.92,-7.14],[3.09,-7.14],[4.02,-7.53],[3.82,-7.57],[3.62,-7.65],[3.66,-7.91],[3.78,-8.45],[2.31,-7.72],[2.58,-8.17],[4.26,-9.05],[5.36,-9.22],[5.72,-9.32],[4.87,-9.56],[2.83,-9.75],[5.58,-10.17],[6.6,-10.95],[6.78,-11.36],[-.92,-4.27],[-.64,-3.35],[-.36,-3.55],[-.56,-4.06],[-.36,-4.43],[-.14,-5.08],[.19,-5.08],[.54,-5.02],[.32,-5.66],[.46,-6.14],[.74,-6.08],[1.3,-6.25],[1.4,-6.79],[1.5,-7.01],[1.77,-7.05],[1.95,-6.76],[1.6,-6.22],[1.64,-5.97],[2.14,-5.97],[2.16,-6.32],[2.49,-6.41],[2.52,-6.79],[2.71,-6.71],[2.99,-6.75],[3.16,-6.7],[2.84,-6.41],[3.14,-6.32],[2.54,-6.08],[2.69,-6.26],[3.6,-5.85],[3.24,-5.8],[4.05,-5.97],[4.2,-6.2],[3.99,-5.61],[4.4,-5.71],[4.55,-5.65],[4.37,-5.26],[3.21,-5.5],[2.84,-5.67],[2.49,-5.55],[2.79,-5.38],[1.94,-5.61],[1.22,-5.67],[1.04,-5.44],[1.29,-5.26],[1.99,-5.28],[2.84,-5.08],[1.74,-5.02],[3.9,-4.96],[3.9,-4.73],[4.4,-4.76],[4.3,-4.43],[3.44,-4.55],[3.34,-4.38],[3.04,-4.85],[2.74,-4.69],[2.32,-4.75],[2.04,-4.85],[3.95,-4.32],[3.75,-4.08],[4.22,-4.14],[.84,-5.02],[1.04,-4.73],[.54,-4.65],[.14,-4.65],[.24,-4.32],[-.06,-4.06]];
const dDownDense=[[.6,-4.2],[1,-4.2],[1.4,-4.4],[1.8,-4.3],[2.2,-4.2],[2.6,-4.3],[3,-4.1],[3.4,-3.9],[.9,-3.9],[-.2,-3.4],[-.3,-3.05],[-.1,-2.85],[3.7,-3.6],[4,-3.5],[4.4,-3.3],[5,-3.1],[5.6,-3],[6,-2.7],[6.4,-2.3],[6.9,-2.1],[7.3,-1.9],[7.6,-1.8],[8.1,-1.7],[8.4,-1.8],[-.45,-2.95],[-.15,-3.7],[.05,-3.45],[.15,-3.9],[.3,-3.75],[.4,-4.1],[.55,-4.4],[.75,-4.5],[.95,-4.3],[1.15,-4.55],[1.3,-4.7],[1.55,-4.6],[1.7,-4.75],[1.9,-4.45],[2.1,-4.6],[2.3,-4.4],[2.45,-4.65],[2.65,-4.5],[2.9,-4.4],[3.1,-4.5],[3.25,-4.2],[3.5,-4.2],[3.6,-3.95],[3.8,-3.8],[4.1,-3.75],[4.25,-3.55],[4.5,-3.6],[4.65,-3.35],[4.8,-3.2],[5,-3.45],[5.25,-3.2],[5.4,-3.05],[5.5,-3.35],[5.7,-3.15],[5.85,-2.85],[6,-3],[6.15,-2.6],[6.25,-3.1],[6.4,-2.65],[6.55,-2.45],[6.7,-2.35],[6.8,-2.7],[6.95,-2.5],[7,-2.2],[7.15,-2.05],[7.25,-2.25],[7.35,-2.05],[7.5,-2.2],[7.55,-2.35],[7.7,-2],[7.8,-2.35],[7.95,-1.85],[8.05,-2],[8.2,-1.75],[8.3,-1.95],[8.45,-2.05],[8.6,-1.75],[8.75,-1.6],[9,-1.55],[4.6,-3],[4.85,-2.95],[5.2,-2.85],[3.3,-3.85],[2.8,-3.95],[.2,-3.35],[.7,-3.8]];
const dFlat=[[13.18,.82],[12.9,.27],[12.46,-1.47],[11.75,-1.22],[11.66,-1.13],[11.52,-.04],[11.5,-.36],[11.27,.25],[11.1,.15],[10.97,-.13],[10.78,-.23],[10.84,-.94],[10.49,-.32],[10.45,0],[10.29,.92],[10.2,1.34],[9.75,1.66],[9.18,1.36],[9.6,.78],[10.1,-.42],[10,-.86],[9.8,-.7],[10.1,-.7],[9.41,-1.43],[9.12,-1.13],[9.32,-.5],[9.12,.25],[8.73,.63],[8.44,1.01],[8.05,1.39],[8.93,.06],[8.54,.25],[9.5,-.13],[8.34,.44],[9.72,1.63],[9.18,1.35],[10.18,1.31],[10.28,.93],[9.59,.79],[8.43,1.07],[-.68,3.12],[-.68,2.46],[-.81,1.99],[-.71,1.48],[-.06,3.11],[.14,3.11],[.64,3.11],[1.09,2.81],[-.16,2.7],[.34,2.64],[.64,2.52],[1.24,2.75],[1.74,2.75],[.24,2.28],[.59,2.1],[.84,2.28],[1.24,2.16],[1.64,2.28],[2.44,2.28],[2.29,2.05],[1.94,2.05],[3.14,1.81],[2.69,1.87],[-.46,2.28],[-.36,2.52],[-.82,2.02],[-.72,1.78],[-.62,1.39],[-.53,.82],[-.43,.25],[-.62,-.67],[-.68,-1.09],[-.66,-1.57],[-.58,-1.95],[-.33,-2.23],[-.23,-2.52],[.25,-2.52],[.84,-2.33],[1.33,-2.43],[-.55,1.7],[-.55,1.2],[-.55,.5],[-.5,-.2],[-.55,-.9],[-.5,-1.4],[-.45,-2],[.5,-2.4],[1.7,-2.1],[2.1,-2.05],[2.6,-1.9],[.2,2.3],[.5,2.4],[1,2.35],[1.4,2.5],[2,2.2],[2.2,1.95],[9.7,-.3],[9.6,-.6],[9.4,-.9],[9.25,-1],[8.9,-1.1],[8.5,-1.25],[8.9,.55],[8.7,.2],[9.3,.4],[8.1,1],[7.7,1.3],[8.8,-.1],[-.3,2.35],[-.1,2.45],[.05,2.6],[.4,2.3],[.75,2.55],[.95,2.45],[1.15,2.4],[1.55,2.4],[1.85,2.3],[2.5,1.85],[2.85,1.7],[3.3,1.6],[-.35,2.85],[-.2,2.15],[.1,2.2],[8.9,.85],[9.05,.7],[9.4,.15],[9.7,.45],[9.85,.2],[9.9,-.1],[10,.1],[9.9,-.4],[9.75,-1],[9.55,-1.15],[8.65,-1.4],[8.2,-1.45],[7.7,-1.5],[8.25,.9],[8.6,.75],[8.75,1],[7.3,1.4],[6.8,1.45],[6.1,1.45],[5.4,1.4],[3.1,-1.85],[2.3,-2.15],[1.1,-2.35],[.1,-2.6]];
const dXMajor=[0,5,10], dYMajor=[-10,-5,0,5,10];

const pairs=(xs,ys)=>xs.map((x,i)=>[x,ys[i]]);
function axis(o){
  const all=[...o.major,...(o.minor||[])].sort((a,b)=>a-b);
  const isMajor=v=>o.major.includes(v);
  return {
    type:'linear',min:o.min,max:o.max,offset:false,
    afterBuildTicks:s=>{s.ticks=all.map(v=>({value:v}))},
    afterFit:s=>{if(o.horizontal)s.height=o.fit;else s.width=o.fit;s.paddingTop=s.paddingBottom=s.paddingLeft=s.paddingRight=0},
    border:{display:false},
    grid:{display:true,drawOnChartArea:o.grid!==false,drawTicks:true,tickLength:o.tickLen||5,offset:false,
      color:'#fff',lineWidth:c=>c.tick&&isMajor(c.tick.value)?(o.mw||2.6):(o.nw||1.3),
      tickColor:c=>c.tick&&isMajor(c.tick.value)?'#333':'rgba(0,0,0,0)',tickWidth:1.5},
    ticks:{autoSkip:false,includeBounds:false,maxRotation:o.rot||0,minRotation:o.rot||0,padding:o.pad===undefined?3:o.pad,
      color:o.color||'#4D4D4D',font:{family:'Liberation Sans',size:o.size,weight:o.bold?'bold':'normal',style:o.italic?'italic':'normal'},
      callback:o.labels||(v=>isMajor(v)?String(v):'')},
    title:{display:true,text:o.title,color:o.tcolor||'#111',padding:0,font:{family:'Liberation Sans',size:o.tsize,weight:o.bold?'bold':'normal'}}
  };
}
const panelBg={id:'panelBg',beforeDraw(c){const a=c.chartArea,x=c.ctx;x.save();x.fillStyle='#EBEBEB';x.fillRect(a.left,a.top,a.right-a.left,a.bottom-a.top);x.restore();}};
function place(id,left,top,w,h){const e=document.getElementById(id);e.width=w;e.height=h;e.style.left=left+'px';e.style.top=top+'px';e.style.width=w+'px';e.style.height=h+'px';return e;}
const base={responsive:false,animation:false,maintainAspectRatio:false,layout:{padding:0,autoPadding:false},plugins:{legend:{display:false},tooltip:{enabled:false}}};
const dots=(label,data,color,r)=>({label,data,showLine:false,pointRadius:r,pointHoverRadius:r,pointBorderWidth:0,backgroundColor:color,borderColor:color});
const edge=(label,data,extra)=>Object.assign({label,data,showLine:true,pointRadius:0,borderWidth:0,borderColor:'rgba(0,0,0,0)',tension:0},extra||{});

// A
new Chart(place('a',50,12,778,815),{type:'scatter',plugins:[panelBg],data:{datasets:[
  {label:'T02 baseline',data:baseline,showLine:true,pointRadius:0,borderColor:'#26C4C8',borderWidth:2.4},
  {label:'T02',data:densityT02,showLine:true,pointRadius:0,borderColor:'#26C4C8',borderWidth:2.6,cubicInterpolationMode:'monotone',fill:'origin',backgroundColor:'rgba(0,191,196,.2)'},
  {label:'T01',data:densityT01,showLine:true,pointRadius:0,borderColor:'#F8766D',borderWidth:2.6,cubicInterpolationMode:'monotone',fill:'origin',backgroundColor:'rgba(248,118,109,.2)'}
]},options:{...base,scales:{
  x:axis({horizontal:true,fit:64,min:-2.09,max:4.385,major:aXMajor,minor:aXMinor,size:23,bold:true,title:'log10(FPKM)',tsize:27}),
  y:axis({fit:72,min:-.037,max:.8365,major:aYMajor,minor:aYMinor,size:23,bold:true,pad:6,title:'density',tsize:27,labels:v=>aYMajor.includes(v)?v.toFixed(1):''})
}}});

// B
const boxes=samples.map((s,i)=>({x:i+1,y:[q1[i],q3[i]]}));
const medBars=samples.map((s,i)=>({x:i+1,y:[medians[i]-.022,medians[i]+.022]}));
const outDots=[...outT01.map(v=>[1,v]),...outT02.map(v=>[2,v])];
const whisk=(i,a,b)=>({type:'scatter',label:samples[i]+' whisker',data:[[i+1,a],[i+1,b]],showLine:true,pointRadius:0,borderColor:'#333',borderWidth:2.2});
new Chart(place('b',1020,12,922,815),{type:'bar',plugins:[panelBg],data:{datasets:[
  {label:'median',data:medBars,backgroundColor:'#333',borderWidth:0,grouped:false,barPercentage:.75,categoryPercentage:1},
  {label:'box',data:boxes,backgroundColor:['#F8766D','#00BFC4'],borderColor:'#444',borderWidth:2.6,borderSkipped:false,grouped:false,barPercentage:.75,categoryPercentage:1},
  Object.assign({type:'scatter'},dots('outliers',outDots,'#333',4.6)),
  whisk(0,whiskerLow[0],q1[0]),whisk(0,q3[0],whiskerHigh[0]),whisk(1,whiskerLow[1],q1[1]),whisk(1,q3[1],whiskerHigh[1])
]},options:{...base,scales:{
  x:axis({horizontal:true,fit:79,min:.402,max:2.6,major:[1,2],size:21,bold:true,italic:true,rot:30,title:'Sample',tsize:27,labels:v=>samples[v-1]||''}),
  y:axis({fit:60,min:-2.1,max:4.39,major:bYMajor,minor:bYMinor,size:23,bold:true,pad:4,title:'log10(FPKM)',tsize:27})
}}});

// C
new Chart(place('c',50,904,855,784),{type:'scatter',plugins:[panelBg],data:{datasets:[
  {label:'fit',data:fitLine,showLine:true,pointRadius:0,borderColor:'rgba(255,0,255,.5)',borderWidth:2.4},
  dots('genes high',cHigh,'#000',2.6),dots('genes mid',cMid,'#000',2.6),dots('genes upper',[...cUpper,...cUpperDense],'#000',2.6),dots('genes lower',[...cLower,...cLowerDense],'#000',2.6),dots('genes low block',cLowBlock,'#000',2.6),
  {label:'column',data:cColumn,showLine:true,pointRadius:0,borderColor:'#000',borderWidth:5},
  {label:'row',data:cRow,showLine:true,pointRadius:0,borderColor:'#000',borderWidth:4.5},
  edge('top',pairs(cBandX,cBandTop),{fill:{target:9},backgroundColor:'#000'}),
  edge('low',pairs(cBandX,cBandLow))
]},options:{...base,scales:{
  x:axis({horizontal:true,fit:53,min:-.203,max:4.3,major:cXMajor,minor:cXMinor,size:15,color:'#7f7f7f',title:'log10(FPKM+1) of T01',tsize:22.5,tcolor:'#333',mw:2.4,nw:1.1,tickLen:4}),
  y:axis({fit:49,min:-.2,max:4.1,major:cYMajor,minor:cYMinor,size:15,color:'#7f7f7f',title:'log10(FPKM+1) of T02',tsize:22,tcolor:'#333',mw:2.4,nw:1.1,tickLen:4})
}}});

// D
new Chart(place('d',1022,920,578,766),{type:'scatter',data:{datasets:[
  dots('unchange',dFlat,'#000',3.5),
  edge('black low',pairs(dBandX,dBlackLow)),
  edge('black top',pairs(dBandX,dBlackTop),{fill:{target:1},backgroundColor:'#000'}),
  dots('down regulated',[...dDown,...dDownDense],'#0f0',3.5),
  edge('green low',pairs(dBandX,dGreenLow),{fill:{target:1},backgroundColor:'#0f0'}),
  dots('up regulated',[...dUp,...dUpDense],'#f00',3.5),
  edge('red top',pairs(dBandX,dRedTop),{fill:{target:2},backgroundColor:'#f00'})
]},options:{...base,scales:{
  x:axis({horizontal:true,fit:66,min:-1.515,max:13.67,major:dXMajor,size:18,grid:false,pad:13,color:'#444',title:'log2(FPKM)',tsize:24.5,tcolor:'#333',tickLen:4}),
  y:axis({fit:73,min:-12.2,max:12.53,major:dYMajor,size:18,grid:false,pad:4,color:'#444',title:'log2(FC)',tsize:23,tcolor:'#333',tickLen:5})
}}});
</script></body></html>
